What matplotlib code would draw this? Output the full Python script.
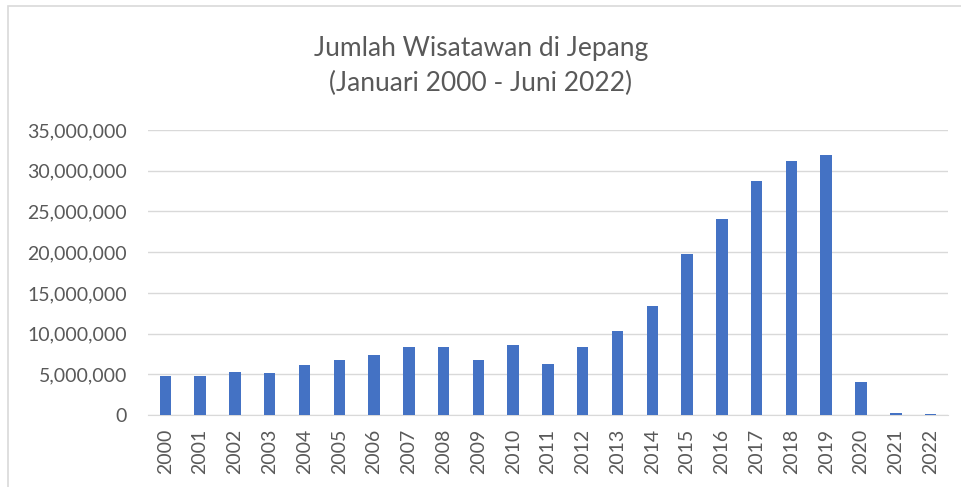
import matplotlib.pyplot as plt
from matplotlib.ticker import FuncFormatter
from matplotlib.patches import Rectangle

years = [str(y) for y in range(2000, 2023)]
visitors = [4757146, 4771555, 5238963, 5211725, 6137905, 6727926, 7334077,
            8346969, 8350835, 6789658, 8611175, 6218752, 8358105, 10363904,
            13413467, 19737409, 24039700, 28691073, 31191856, 31882049,
            4115828, 245862, 120430]

plt.rcParams['font.family'] = ['Lato', 'DejaVu Sans']

fig = plt.figure(figsize=(9.62, 4.87), dpi=100)
ax = fig.add_axes([0.1538, 0.1478, 0.8316, 0.5852])

ax.bar(range(len(years)), visitors, width=0.33, color='#4472C4', zorder=3)

ax.set_xlim(-0.5, len(years) - 0.5)
ax.set_ylim(0, 35000000)
ax.set_yticks(range(0, 35000001, 5000000))
ax.yaxis.set_major_formatter(FuncFormatter(lambda v, p: f"{int(v):,}"))
ax.set_xticks(range(len(years)))
ax.set_xticklabels(years, rotation=90)

ax.grid(axis='y', color='#D9D9D9', linewidth=1, zorder=0)
for s in ['top', 'right', 'left']:
    ax.spines[s].set_visible(False)
ax.spines['bottom'].set_color('#D9D9D9')
ax.tick_params(axis='both', length=0, labelsize=14, colors='#595959')
ax.tick_params(axis='y', pad=15)
ax.tick_params(axis='x', pad=10)

fig.text(0.5, 0.900, "Jumlah Wisatawan di Jepang", ha='center', va='center',
         fontsize=19, color='#595959')
fig.text(0.5, 0.829, "(Januari 2000 - Juni 2022)", ha='center', va='center',
         fontsize=19, color='#595959')

# chart area border (cropped on right and bottom)
fig.add_artist(Rectangle((0.008, -0.05), 1.05, 1.038, transform=fig.transFigure,
                         fill=False, edgecolor='#D9D9D9', linewidth=1.2))

fig.savefig('out.png', dpi=100)
